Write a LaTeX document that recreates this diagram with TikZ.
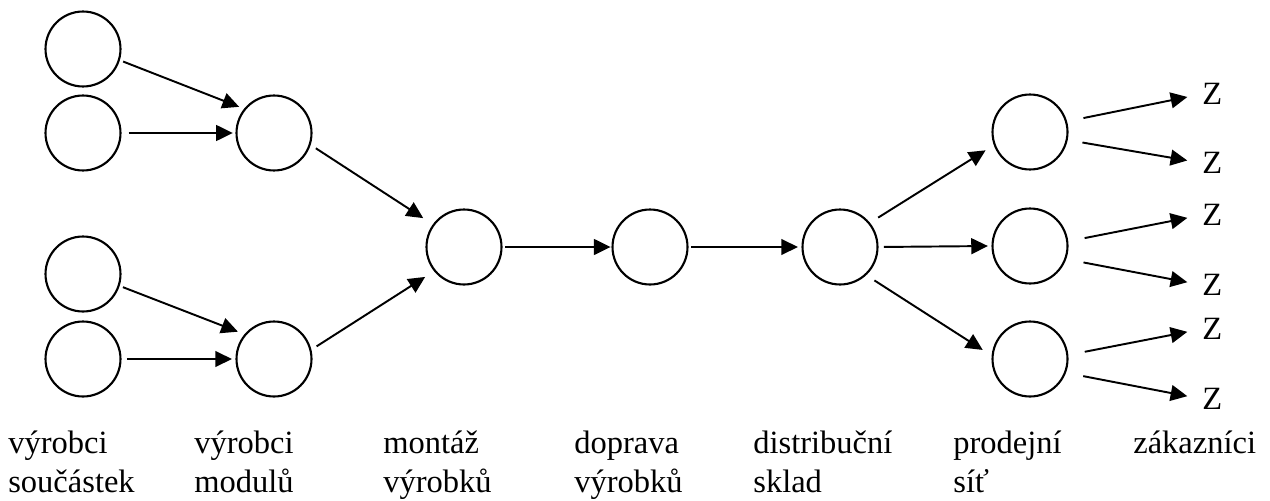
\documentclass[tikz,border=0pt]{standalone}
\usepackage{fontspec}
\setmainfont{Liberation Serif}
\usetikzlibrary{arrows.meta}
\begin{document}
\begin{tikzpicture}[x=0.02cm,y=-0.02cm,
  stage/.style={circle,draw,line width=1.2pt,minimum size=1.5cm,inner sep=0pt},
  flow/.style={-{Triangle[length=9.5pt,width=9pt]},line width=1.1pt},
  lbl/.style={anchor=base west,align=left,inner sep=0pt,font=\fontsize{18.5pt}{22.1pt}\selectfont},
  zz/.style={anchor=west,inner sep=0pt,font=\fontsize{18.5pt}{22.1pt}\selectfont}]
\useasboundingbox (0,0) rectangle (1270,500);
% circles
\node[stage] (c1) at (83,49) {};
\node[stage] (c2) at (83,133) {};
\node[stage] (c3) at (83,274) {};
\node[stage] (c4) at (83,359) {};
\node[stage] (m1) at (274,133) {};
\node[stage] (m2) at (274,359) {};
\node[stage] (A) at (464,247) {};
\node[stage] (D) at (650,247) {};
\node[stage] (S) at (840,247) {};
\node[stage] (P1) at (1030,132) {};
\node[stage] (P2) at (1030,246) {};
\node[stage] (P3) at (1030,359) {};
% customers
\node[zz] (z1) at (1202,94) {Z};
\node[zz] (z2) at (1202,163) {Z};
\node[zz] (z3) at (1202,215) {Z};
\node[zz] (z4) at (1202,285) {Z};
\node[zz] (z5) at (1202,329) {Z};
\node[zz] (z6) at (1202,399) {Z};
% connectors
\draw[flow,shorten <=2pt,shorten >=3pt] (c1.-17) -- (m1.141);
\draw[flow,shorten <=4pt,shorten >=1.5pt] (c2.0) -- (m1.180);
\draw[flow,shorten <=2pt,shorten >=4pt] (c3.-18) -- (m2.140);
\draw[flow,shorten <=3pt,shorten >=2pt] (c4.0) -- (m2.180);
\draw[flow,shorten <=3.5pt,shorten >=6.5pt] (m1.-18) -- (A.144);
\draw[flow,shorten <=3.5pt,shorten >=6pt] (m2.14) -- (A.219);
\draw[flow,shorten <=1.5pt,shorten >=0.5pt] (A.0) -- (D.180);
\draw[flow,shorten <=1.5pt,shorten >=2pt] (D.0) -- (S.180);
\draw[flow,shorten <=5.5pt,shorten >=5.5pt] (S.39) -- (P1.200);
\draw[flow,shorten <=3pt,shorten >=2pt] (S.0) -- (P2.180);
\draw[flow,shorten <=5.5pt,shorten >=6pt] (S.-47) -- (P3.175);
\draw[flow,shorten <=9.5pt,shorten >=8.5pt] (P1.16) -- (z1.west);
\draw[flow,shorten <=8.5pt,shorten >=8.5pt] (P1.-12) -- (z2.west);
\draw[flow,shorten <=9.5pt,shorten >=8.5pt] (P2.7) -- (z3.west);
\draw[flow,shorten <=10pt,shorten >=8.5pt] (P2.-20) -- (z4.west);
\draw[flow,shorten <=9.5pt,shorten >=8.5pt] (P3.6) -- (z5.west);
\draw[flow,shorten <=10pt,shorten >=8.5pt] (P3.-21) -- (z6.west);
% labels (base anchor = baseline of the last line)
\node[lbl] (t1) at (8,492) {výrobci\\součástek};
\node[lbl] (t2) at (194,492) {výrobci\\modulů};
\node[lbl] (t3) at (383,492) {montáž\\výrobků};
\node[lbl] (t4) at (574,492) {doprava\\výrobků};
\node[lbl] (t5) at (753,492) {distribuční\\sklad};
\node[lbl] (t6) at (953,492) {prodejní\\síť};
\node[lbl] (t7) at (1133,453) {zákazníci};
\end{tikzpicture}
\end{document}
